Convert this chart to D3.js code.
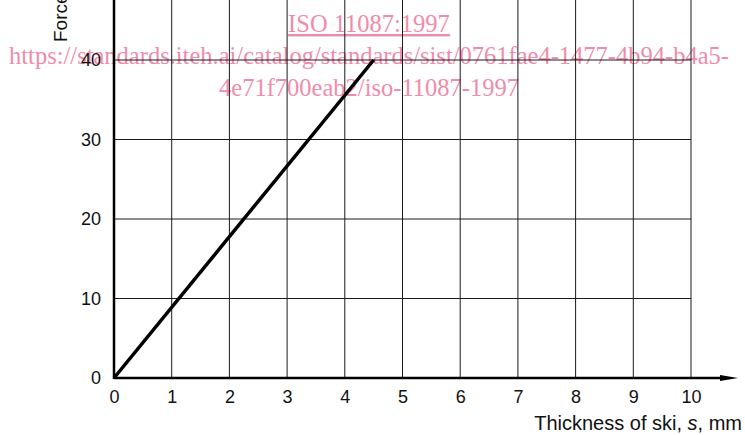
<!DOCTYPE html>
<html lang="en">
<head>
  <meta charset="UTF-8">
  <title>Force vs thickness of ski</title>
<style>
    body { margin: 0; background: #fff; }
    #chart { display: block; }
    .tick text { font-family: "Liberation Sans", sans-serif; font-size: 18px; fill: #111; }
    .grid line { stroke: #1a1a1a; stroke-width: 1; }
    .mark { font-family: "Liberation Serif", serif; font-size: 24.5px; fill: #f08cab; }
  </style>
</head>
<body>
<svg id="chart" width="745" height="435"></svg>
<script src="https://d3js.org/d3.v7.min.js"></script>
<script>
    // values
    const xTicks = [0, 1, 2, 3, 4, 5, 6, 7, 8, 9, 10];
    const yTicks = [0, 10, 20, 30, 40];
    const thickness = [0, 4.5];
    const force = [0, 40];
    const xLabel = 'Thickness of ski, ';
    const yLabel = 'Force, F, N';
    const stamp = [
      'ISO 11087:1997',
      'https://standards.iteh.ai/catalog/standards/sist/0761fae4-1477-4b94-b4a5-',
      '4e71f700eab2/iso-11087-1997'
    ];

    const svg = d3.select('#chart');

    const x = d3.scaleLinear().domain([0, 10]).range([114, 691]);
    const y = d3.scaleLinear().domain([0, 40]).range([378, 60]);

    // watermark sits under the drawing
    svg.selectAll('.mark')
      .data(stamp)
      .enter().append('text')
      .attr('class', 'mark')
      .attr('x', 369)
      .attr('y', (d, i) => 32 + i * 32)
      .attr('text-anchor', 'middle')
      .style('text-decoration', (d, i) => i === 0 ? 'underline' : null)
      .text(d => d);

    // grid
    const grid = svg.append('g').attr('class', 'grid');
    grid.selectAll('.v')
      .data(xTicks.slice(1))
      .enter().append('line')
      .attr('x1', d => x(d)).attr('x2', d => x(d))
      .attr('y1', y(0)).attr('y2', y(50));
    grid.selectAll('.h')
      .data(yTicks.slice(1))
      .enter().append('line')
      .attr('x1', x(0)).attr('x2', x(10))
      .attr('y1', d => y(d)).attr('y2', d => y(d));

    // axes (tick labels only, lines drawn below)
    svg.append('g')
      .attr('transform', `translate(0, ${y(0)})`)
      .call(d3.axisBottom(x).tickValues(xTicks).tickSize(0).tickPadding(12).tickFormat(d3.format('d')))
      .call(g => g.select('.domain').remove());

    svg.append('g')
      .attr('transform', `translate(${x(0)}, 0)`)
      .call(d3.axisLeft(y).tickValues(yTicks).tickSize(0).tickPadding(13).tickFormat(d3.format('d')))
      .call(g => g.select('.domain').remove());

    // thick axis lines
    svg.append('line')
      .attr('x1', x(0)).attr('x2', 720)
      .attr('y1', y(0)).attr('y2', y(0))
      .attr('stroke', '#000').attr('stroke-width', 2.5);
    svg.append('path')
      .attr('d', `M720,${y(0) - 3}L738,${y(0)}L720,${y(0) + 3}Z`)
      .attr('fill', '#000');
    svg.append('line')
      .attr('x1', x(0)).attr('x2', x(0))
      .attr('y1', y(0) + 1).attr('y2', 0)
      .attr('stroke', '#000').attr('stroke-width', 2.5);

    // the line
    const line = d3.line().x(d => x(d[0])).y(d => y(d[1]));
    svg.append('path')
      .datum(d3.zip(thickness, force))
      .attr('d', line)
      .attr('fill', 'none')
      .attr('stroke', '#000')
      .attr('stroke-width', 3.5);

    // axis titles
    const xt = svg.append('text')
      .attr('x', 742).attr('y', 430)
      .attr('text-anchor', 'end')
      .style('font-family', '"Liberation Sans", sans-serif')
      .style('font-size', '20px')
      .attr('fill', '#111');
    xt.append('tspan').text(xLabel);
    xt.append('tspan').style('font-style', 'italic').text('s');
    xt.append('tspan').text(', mm');

    svg.append('text')
      .attr('transform', 'translate(67, 42) rotate(-90)')
      .style('font-family', '"Liberation Sans", sans-serif')
      .style('font-size', '19px')
      .attr('fill', '#111')
      .text(yLabel);
</script>
</body>
</html>
